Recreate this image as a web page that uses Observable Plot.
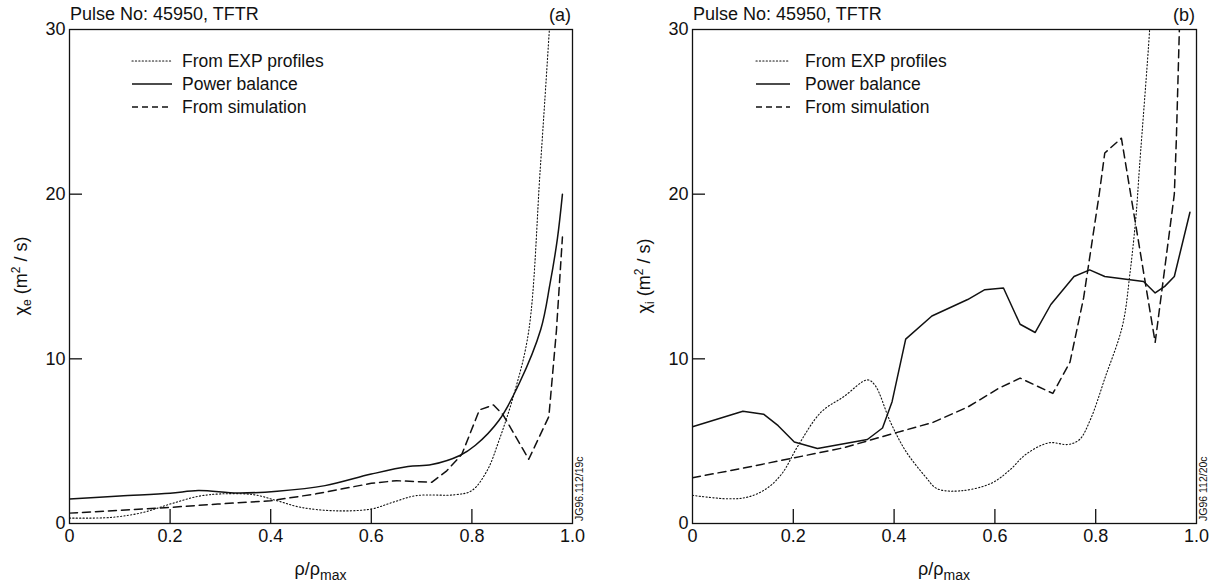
<!DOCTYPE html>
<html><head><meta charset="utf-8">
<script src="https://cdn.jsdelivr.net/npm/d3@7"></script>
<script src="https://cdn.jsdelivr.net/npm/@observablehq/plot@0.6"></script>
<style>
body{margin:0;background:#fff;}
#wrap{display:flex;width:1225px;height:587px;overflow:hidden;}
svg{display:block;}
</style></head><body><div id="wrap"></div>
<script>
// ---- shared labels / ticks ----
const seriesNames = ["From EXP profiles", "Power balance", "From simulation"];
const xTicks = [0, 0.2, 0.4, 0.6, 0.8, 1.0];
const xInnerTicks = [0.2, 0.4, 0.6, 0.8];
const yTicks = [0, 10, 20, 30];
const yInnerTicks = [10, 20];
const titleText = "Pulse No: 45950, TFTR";

// ---- panel (a): chi_e ----
const aExpX = [0, 0.083, 0.146, 0.2, 0.256, 0.303, 0.366, 0.413, 0.46, 0.53, 0.6, 0.642, 0.689, 0.768, 0.8, 0.83, 0.854, 0.886, 0.913, 0.936, 0.954, 0.962];
const aExpY = [0.33, 0.37, 0.67, 1.18, 1.65, 1.8, 1.75, 1.38, 0.98, 0.77, 0.88, 1.28, 1.69, 1.75, 2.0, 3.2, 5.05, 8.1, 11.7, 21.6, 30, 34];
const aPbX = [0, 0.1, 0.2, 0.256, 0.335, 0.413, 0.508, 0.6, 0.673, 0.72, 0.776, 0.807, 0.854, 0.894, 0.937, 0.955, 0.97, 0.98];
const aPbY = [1.49, 1.67, 1.83, 2.0, 1.85, 1.96, 2.3, 3.0, 3.46, 3.58, 4.13, 4.75, 6.27, 8.5, 11.8, 14.5, 17.3, 20.0];
const aSimX = [0, 0.2, 0.295, 0.4, 0.49, 0.6, 0.65, 0.72, 0.75, 0.78, 0.815, 0.843, 0.862, 0.913, 0.953, 0.968, 0.98];
const aSimY = [0.63, 0.98, 1.18, 1.38, 1.8, 2.44, 2.6, 2.5, 3.2, 4.2, 6.9, 7.2, 6.6, 3.9, 6.5, 11.7, 17.4];

// ---- panel (b): chi_i ----
const bExpX = [0, 0.07, 0.109, 0.147, 0.178, 0.209, 0.255, 0.3, 0.347, 0.362, 0.393, 0.423, 0.462, 0.485, 0.53, 0.592, 0.63, 0.661, 0.707, 0.745, 0.768, 0.79, 0.818, 0.853, 0.868, 0.88, 0.887, 0.907, 0.912];
const bExpY = [1.71, 1.5, 1.6, 2.12, 3.05, 4.7, 6.76, 7.7, 8.72, 8.4, 6.14, 4.4, 2.85, 2.12, 1.98, 2.43, 3.26, 4.19, 4.9, 4.8, 5.1, 6.35, 8.8, 12.0, 15.2, 18.7, 21.7, 30, 33];
const bPbX = [0, 0.1, 0.141, 0.17, 0.202, 0.248, 0.347, 0.377, 0.396, 0.423, 0.475, 0.546, 0.58, 0.617, 0.65, 0.68, 0.711, 0.757, 0.788, 0.818, 0.895, 0.918, 0.937, 0.956, 0.987];
const bPbY = [5.88, 6.82, 6.64, 5.94, 4.95, 4.56, 5.1, 5.8, 7.4, 11.2, 12.6, 13.6, 14.2, 14.3, 12.1, 11.6, 13.3, 15.0, 15.4, 15.0, 14.7, 14.0, 14.4, 15.0, 18.9];
const bSimX = [0, 0.1, 0.2, 0.3, 0.393, 0.477, 0.546, 0.607, 0.65, 0.715, 0.749, 0.776, 0.807, 0.818, 0.851, 0.918, 0.956, 0.96, 0.966, 0.97];
const bSimY = [2.78, 3.36, 3.98, 4.6, 5.42, 6.14, 7.07, 8.2, 8.83, 7.9, 9.8, 13.7, 20.0, 22.5, 23.4, 11.0, 20.0, 23.3, 30, 33];

const FONT = "'Liberation Sans', Arial, Helvetica, sans-serif";
const INK = "#111";
const styles = [
  {strokeWidth: 1.1, strokeDasharray: "1.2,2.2", strokeLinecap: "round"},
  {strokeWidth: 1.5, strokeDasharray: null},
  {strokeWidth: 1.5, strokeDasharray: "8,5"}
];

function rows(xs, ys) { return xs.map((x, i) => ({x, y: ys[i]})); }

function panel(o) {
  const H = 587, mT = 29, mB = 64;
  const innerW = o.w - o.mL - o.mR, innerH = H - mT - mB;
  const sets = [rows(o.exp[0], o.exp[1]), rows(o.pb[0], o.pb[1]), rows(o.sim[0], o.sim[1])];
  const curves = o.curves;
  const svgEl = Plot.plot({
    width: o.w, height: H,
    marginLeft: o.mL, marginRight: o.mR, marginTop: mT, marginBottom: mB,
    x: {domain: [0, 1]},
    y: {domain: [0, 30]},
    style: {fontFamily: FONT, fontSize: "18px", color: INK, background: "#fff", overflow: "visible"},
    marks: [
      Plot.frame({stroke: INK, strokeWidth: 1.3}),
      Plot.axisX(xTicks, {tickSize: 0, tickPadding: 6, label: null, fontSize: 18,
        tickFormat: d => d === 0 ? "0" : d.toFixed(1)}),
      Plot.axisY(yTicks, {tickSize: 0, tickPadding: 4, label: null, fontSize: 18,
        tickFormat: d => String(d)}),
      Plot.tickX(xInnerTicks, {x: d => d, insetTop: innerH - 14, stroke: INK, strokeWidth: 1.3}),
      Plot.tickY(yInnerTicks, {y: d => d, insetRight: innerW - 13, stroke: INK, strokeWidth: 1.3}),
      ...sets.map((s, i) => Plot.line(s, {x: "x", y: "y", stroke: INK, clip: true,
        curve: curves[i], ...styles[i]}))
    ]
  });
  const svg = d3.select(svgEl);
  const g = svg.append("g").attr("fill", INK).attr("text-anchor", "start")
    .style("font-family", FONT);
  // title and tag
  g.append("text").attr("x", o.mL + 1).attr("y", 20).attr("font-size", 18)
    .attr("text-anchor", "start").text(titleText);
  g.append("text").attr("x", o.w - o.mR - 1).attr("y", 21).attr("font-size", 18)
    .attr("text-anchor", "end").text(o.tag);
  // y label
  const yl = g.append("text").attr("text-anchor", "middle").attr("font-size", 18)
    .attr("transform", `translate(${o.yLabX},${mT + innerH / 2}) rotate(-90)`);
  yl.append("tspan").text("χ");
  yl.append("tspan").attr("font-size", 12).attr("dy", 4).text(o.sub);
  yl.append("tspan").attr("dy", -4).text(" (m");
  yl.append("tspan").attr("font-size", 12).attr("dy", -7).text("2");
  yl.append("tspan").attr("dy", 7).text(" / s)");
  // x label
  const xl = g.append("text").attr("text-anchor", "middle").attr("font-size", 18)
    .attr("x", o.mL + innerW / 2).attr("y", 575);
  xl.append("tspan").text("ρ/ρ");
  xl.append("tspan").attr("font-size", 14).attr("dy", 5).text("max");
  // legend
  const ly = [61, 84, 107];
  seriesNames.forEach((name, i) => {
    g.append("line").attr("x1", o.mL + o.lg[0]).attr("x2", o.mL + o.lg[1])
      .attr("y1", ly[i]).attr("y2", ly[i]).attr("stroke", INK)
      .attr("stroke-width", styles[i].strokeWidth)
      .attr("stroke-dasharray", i === 2 ? "6,4" : styles[i].strokeDasharray)
      .attr("stroke-linecap", styles[i].strokeLinecap || null);
    g.append("text").attr("x", o.mL + o.lg[2]).attr("y", ly[i] + 6)
      .attr("text-anchor", "start").attr("font-size", 17.5).text(name);
  });
  // figure code
  g.append("text").attr("font-size", 10.5).attr("text-anchor", "start")
    .attr("transform", `translate(${o.w - o.mR + 11},521) rotate(-90)`)
    .text(o.code);
  return svgEl;
}

const wrap = document.getElementById("wrap");
wrap.appendChild(panel({
  w: 612, mL: 69, mR: 40, tag: "(a)", sub: "e", yLabX: 27, code: "JG96.112/19c",
  lg: [63, 103, 113],
  exp: [aExpX, aExpY], pb: [aPbX, aPbY], sim: [aSimX, aSimY],
  curves: ["catmull-rom", "catmull-rom", "linear"]
}));
wrap.appendChild(panel({
  w: 613, mL: 80, mR: 29, tag: "(b)", sub: "i", yLabX: 38, code: "JG96 112/20c",
  lg: [64, 98, 113],
  exp: [bExpX, bExpY], pb: [bPbX, bPbY], sim: [bSimX, bSimY],
  curves: ["catmull-rom", "linear", "linear"]
}));
</script></body></html>
